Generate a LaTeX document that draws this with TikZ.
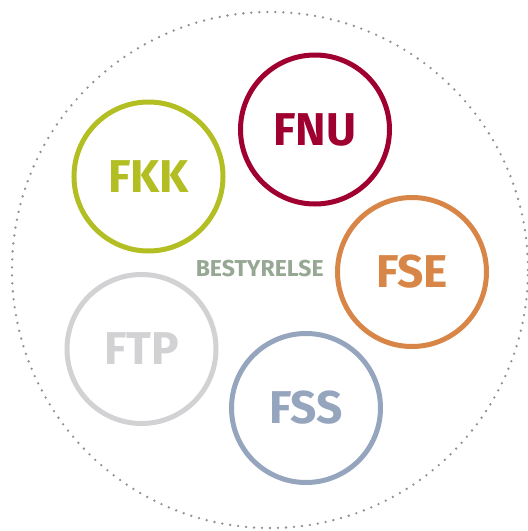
\documentclass[tikz,border=0pt]{standalone}
\usepackage{fontspec}
\setmainfont{Fira Sans}
\definecolor{fnured}{RGB}{160,0,48}
\definecolor{fkkgreen}{RGB}{178,190,34}
\definecolor{fseorange}{RGB}{216,134,72}
\definecolor{ftpgrey}{RGB}{210,210,212}
\definecolor{fssblue}{RGB}{150,165,190}
\definecolor{boardgreen}{RGB}{150,168,148}
\definecolor{dotgrey}{RGB}{135,150,135}
\usepackage{tikz}

\begin{document}
\begin{tikzpicture}[x=1pt, y=-1pt,
    unitring/.style={circle, draw, line width=5pt, minimum size=149pt, inner sep=0pt,
        font=\fontsize{46}{46}\selectfont\bfseries}]
            \useasboundingbox (0,0) rectangle (528,531);

            % Cirkel rundt om alle enheder
            \node (rim) [circle, draw=dotgrey, line width=2.6pt, line cap=round,
                dash pattern=on 0pt off 8pt, minimum size=516pt, inner sep=0pt] at (270,270) {};

            % Enhederne
            \foreach \name/\col/\x/\y in {FNU/fnured/315/129.5, FKK/fkkgreen/148.5/176.5,
                FSE/fseorange/412/272, FTP/ftpgrey/141.5/349, FSS/fssblue/306/408} {
                \node (\name) [unitring, draw=\col, text=\col] at (\x,\y) {\name};
            }

            % Bestyrelse i midten
            \node (board) [boardgreen, font=\fontsize{23}{23}\selectfont\bfseries] at (259.7,268.5) {BESTYRELSE};
        \end{tikzpicture}
\end{document}
